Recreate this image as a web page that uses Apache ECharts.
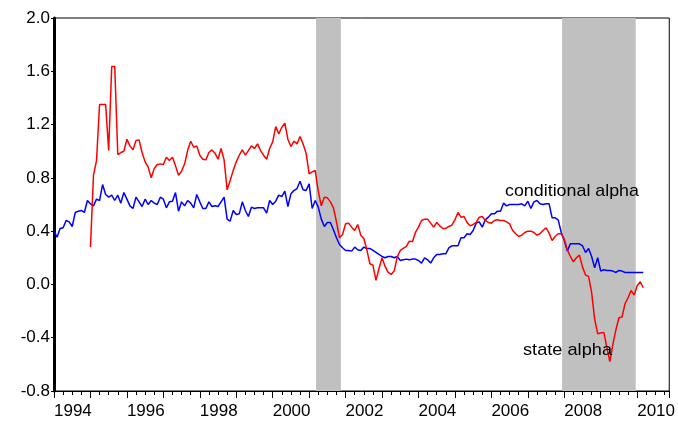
<!DOCTYPE html>
<html>
<head>
<meta charset="utf-8">
<script src="https://cdn.jsdelivr.net/npm/echarts@6/dist/echarts.min.js"></script>
<style>
  html, body { margin: 0; padding: 0; background: #fff; }
  #chart { width: 678px; height: 424px; }
</style>
</head>
<body>
<div id="chart"></div>
<script>
// monthly values, conditional alpha starts 1994M01
var condStart = 1994;
var conditionalAlpha = [
  0.40, 0.355, 0.42, 0.425, 0.48, 0.47, 0.435, 0.54, 0.55, 0.555, 0.54, 0.63,
  0.605, 0.59, 0.64, 0.63, 0.75, 0.675, 0.655, 0.67, 0.63, 0.67, 0.61, 0.69,
  0.64, 0.59, 0.57, 0.655, 0.62, 0.585, 0.64, 0.60, 0.63, 0.61, 0.60, 0.655,
  0.64, 0.575, 0.62, 0.625, 0.69, 0.55, 0.62, 0.59, 0.63, 0.61, 0.575, 0.675,
  0.62, 0.57, 0.57, 0.62, 0.585, 0.59, 0.585, 0.62, 0.655, 0.49, 0.475, 0.555,
  0.525, 0.53, 0.62, 0.555, 0.51, 0.58, 0.57, 0.575, 0.575, 0.575, 0.535, 0.63,
  0.60, 0.625, 0.67, 0.66, 0.70, 0.585, 0.68, 0.705, 0.72, 0.775, 0.71, 0.705,
  0.755, 0.57, 0.63, 0.58, 0.49, 0.435, 0.465, 0.465, 0.41, 0.35, 0.30, 0.275,
  0.255, 0.255, 0.25, 0.28, 0.26, 0.255, 0.28, 0.27, 0.27, 0.255, 0.24, 0.225,
  0.21, 0.20, 0.21, 0.21, 0.20, 0.21, 0.18, 0.185, 0.19, 0.185, 0.19, 0.19,
  0.18, 0.16, 0.20, 0.185, 0.16, 0.20, 0.225, 0.225, 0.23, 0.23, 0.275, 0.29,
  0.29, 0.29, 0.35, 0.35, 0.38, 0.375, 0.405, 0.46, 0.47, 0.43, 0.485, 0.505,
  0.53, 0.53, 0.55, 0.55, 0.61, 0.59, 0.60, 0.60, 0.60, 0.60, 0.605, 0.59,
  0.625, 0.57, 0.62, 0.63, 0.605, 0.60, 0.605, 0.605, 0.50, 0.50, 0.485, 0.39,
  0.33, 0.25, 0.305, 0.305, 0.305, 0.305, 0.29, 0.24, 0.27, 0.21, 0.125, 0.20,
  0.10, 0.11, 0.105, 0.105, 0.10, 0.09, 0.105, 0.10, 0.09, 0.09, 0.09, 0.09,
  0.09, 0.09, 0.09
];

// state alpha starts 1995M01
var stateStart = 1995;
var stateAlpha = [
  0.28, 0.82, 0.93, 1.35, 1.35, 1.35, 1.005, 1.635, 1.635, 0.975, 0.99, 1.0,
  1.09, 1.04, 1.01, 1.08, 1.085, 0.99, 0.92, 0.88, 0.80, 0.87, 0.90, 0.905,
  0.90, 0.955, 0.93, 0.955, 0.89, 0.82, 0.85, 0.905, 1.005, 1.075, 1.03, 1.04,
  0.97, 0.94, 0.935, 0.99, 1.01, 0.985, 0.94, 1.02, 0.935, 0.71, 0.78, 0.855,
  0.92, 0.97, 1.01, 0.97, 1.005, 1.04, 1.02, 1.055, 1.005, 0.97, 0.94, 1.02,
  1.07, 1.185, 1.13, 1.18, 1.21, 1.09, 1.035, 1.075, 1.055, 1.11, 1.055, 0.985,
  0.83, 0.845, 0.855, 0.70, 0.59, 0.655, 0.65, 0.62, 0.575, 0.47, 0.35, 0.375,
  0.455, 0.46, 0.43, 0.405, 0.45, 0.37, 0.345, 0.26, 0.155, 0.145, 0.03, 0.12,
  0.20, 0.135, 0.09, 0.075, 0.10, 0.205, 0.255, 0.27, 0.285, 0.325, 0.32, 0.39,
  0.43, 0.48, 0.49, 0.49, 0.46, 0.43, 0.465, 0.44, 0.42, 0.42, 0.435, 0.445,
  0.485, 0.54, 0.505, 0.51, 0.465, 0.44, 0.45, 0.465, 0.505, 0.51, 0.48, 0.465,
  0.46, 0.48, 0.485, 0.48, 0.48, 0.47, 0.455, 0.405, 0.38, 0.36, 0.37, 0.39,
  0.40, 0.40, 0.39, 0.37, 0.38, 0.405, 0.425, 0.385, 0.33, 0.36, 0.38, 0.38,
  0.34, 0.26, 0.21, 0.17, 0.20, 0.22, 0.13, 0.07, 0.06, -0.06, -0.26, -0.37,
  -0.365, -0.36, -0.47, -0.58, -0.45, -0.34, -0.25, -0.245, -0.145, -0.10, -0.045, -0.08,
  -0.01, 0.02, -0.025
];

// shaded recessions (fractional years)
var recessions = [[2001.19, 2001.87], [2007.94, 2009.96]];
var yearLabels = [1994, 1996, 1998, 2000, 2002, 2004, 2006, 2008, 2010];

var font = 'Liberation Sans';

function toPairs(start, arr) {
  return arr.map(function (v, i) { return [start + i / 12, v]; });
}

var chart = echarts.init(document.getElementById('chart'));

var option = {
  animation: false,
  backgroundColor: '#ffffff',
  grid: {
    left: 54, right: 5, top: 18, bottom: 33,
    show: true, borderColor: '#000', borderWidth: 1
  },
  xAxis: {
    type: 'value',
    min: 1994,
    max: 2010.88,
    interval: 1,
    axisLine: { onZero: false, lineStyle: { color: '#000', width: 1 } },
    axisTick: { show: true, length: 7, lineStyle: { color: '#000' } },
    minorTick: { show: true, splitNumber: 4, length: 4, lineStyle: { color: '#000' } },
    splitLine: { show: false },
    axisLabel: {
      align: 'left',
      margin: 12,
      color: '#000',
      fontSize: 17,
      fontFamily: font,
      showMaxLabel: false,
      formatter: function (v) {
        var r = Math.round(v);
        if (Math.abs(v - r) < 1e-6 && yearLabels.indexOf(r) >= 0) return String(r);
        return '';
      }
    }
  },
  yAxis: {
    type: 'value',
    min: -0.8,
    max: 2.0,
    interval: 0.4,
    axisLine: { show: true, onZero: false, lineStyle: { color: '#000', width: 3 } },
    axisTick: { show: true, length: 3, lineStyle: { color: '#000' } },
    splitLine: { show: false },
    axisLabel: {
      margin: 4,
      color: '#000',
      fontSize: 17,
      fontFamily: font,
      formatter: function (v) { return v.toFixed(1); }
    }
  },
  series: [
    {
      name: 'recession',
      type: 'line',
      data: [],
      silent: true,
      z: 1,
      markArea: {
        silent: true,
        itemStyle: { color: '#c0c0c0' },
        data: recessions.map(function (r) { return [{ xAxis: r[0] }, { xAxis: r[1] }]; })
      }
    },
    {
      name: 'conditional alpha',
      type: 'line',
      data: toPairs(condStart, conditionalAlpha),
      showSymbol: false,
      z: 3,
      lineStyle: { color: '#0000ff', width: 1.5 }
    },
    {
      name: 'state alpha',
      type: 'line',
      data: toPairs(stateStart, stateAlpha),
      showSymbol: false,
      z: 4,
      lineStyle: { color: '#ff0000', width: 1.5 }
    }
  ],
  graphic: [
    {
      type: 'text', x: 505, y: 191, scaleX: 1.05, z: 10,
      style: { text: 'conditional alpha', fill: '#000', font: '17px "' + font + '"', verticalAlign: 'middle' }
    },
    {
      type: 'text', x: 523, y: 350, scaleX: 1.07, z: 10,
      style: { text: 'state alpha', fill: '#000', font: '17px "' + font + '"', verticalAlign: 'middle' }
    }
  ]
};

chart.setOption(option);
</script>
</body>
</html>
